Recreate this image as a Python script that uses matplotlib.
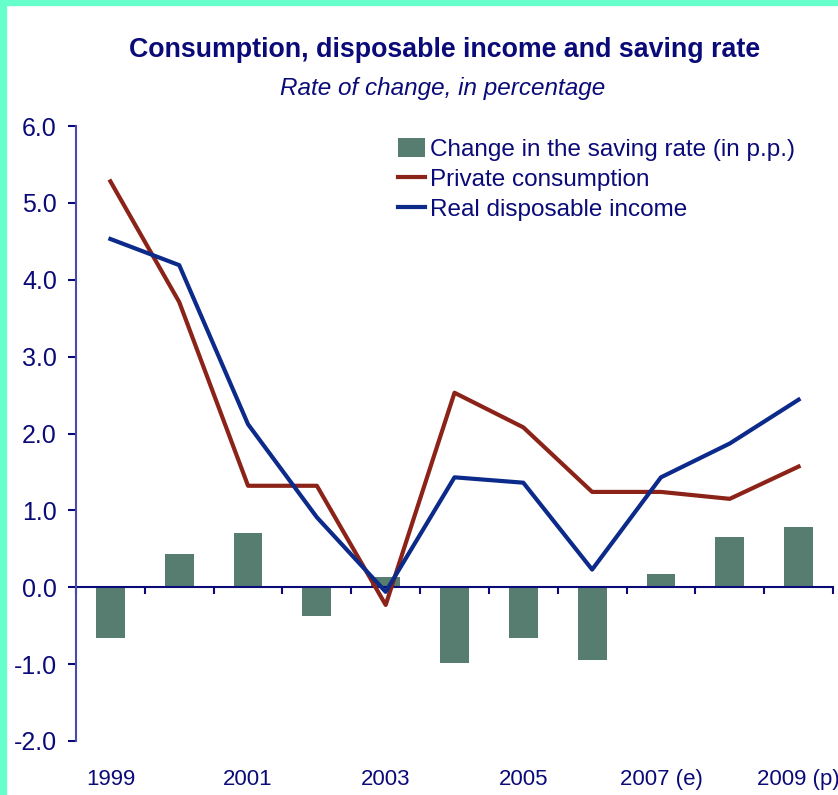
import numpy as np
import matplotlib.pyplot as plt
from matplotlib.patches import Rectangle

plt.rcParams['font.family'] = ['Liberation Sans', 'DejaVu Sans']

# 数据
years = ['1999', '2000', '2001', '2002', '2003', '2004', '2005', '2006', '2007', '2008', '2009']
year_labels = ['1999', '', '2001', '', '2003', '', '2005', '', '2007 (e)', '', '2009 (p)']
saving_change = [-0.66, 0.43, 0.70, -0.38, 0.13, -0.99, -0.66, -0.94, 0.17, 0.65, 0.78]
consumption = [5.28, 3.71, 1.32, 1.32, -0.23, 2.53, 2.08, 1.24, 1.24, 1.15, 1.57]
income = [4.53, 4.19, 2.12, 0.91, -0.06, 1.43, 1.36, 0.23, 1.43, 1.87, 2.44]

navy = '#0a0a78'
bar_col = '#577d70'
red = '#8b2318'
blue = '#0c2a8a'


def main():
    fig = plt.figure(figsize=(8.38, 7.95), dpi=100)
    # 左と上の枠
    fig.patches.append(Rectangle((0, 0), 6 / 838, 1, transform=fig.transFigure,
                                 color='#66ffcc', zorder=0))
    fig.patches.append(Rectangle((0, 1 - 5 / 795), 1, 5 / 795, transform=fig.transFigure,
                                 color='#66ffcc', zorder=0))

    ax = fig.add_axes([76 / 838, 1 - 741 / 795, 757 / 838, 615 / 795])
    x = np.arange(len(years))

    bars = ax.bar(x, saving_change, width=0.42, color=bar_col, zorder=1)
    l1, = ax.plot(x, consumption, color=red, lw=3, zorder=3)
    l2, = ax.plot(x, income, color=blue, lw=3, zorder=4)

    ax.set_xlim(-0.5, len(years) - 0.5)
    ax.set_ylim(-2, 6)
    ax.set_yticks(np.arange(-2, 7, 1))
    ax.set_yticklabels([f'{v:.1f}' for v in np.arange(-2, 7, 1)])

    ax.spines['top'].set_visible(False)
    ax.spines['right'].set_visible(False)
    ax.spines['left'].set_color('#4a4aa8')
    ax.spines['left'].set_linewidth(1.5)
    ax.spines['bottom'].set_position(('data', 0))
    ax.spines['bottom'].set_color(navy)
    ax.spines['bottom'].set_linewidth(1.5)
    ax.spines['bottom'].set_zorder(2)

    ax.set_xticks(np.arange(len(years) + 1) - 0.5)
    ax.tick_params(axis='x', direction='out', length=5, width=1.5, color=navy,
                   labelbottom=False)
    ax.tick_params(axis='y', direction='out', length=5.8, width=1.5, color=navy,
                   labelsize=18, labelcolor=navy, pad=8)

    sec = ax.secondary_xaxis(0)
    sec.set_xticks(x)
    sec.set_xticklabels(year_labels)
    sec.tick_params(length=0, pad=20, labelsize=16, labelcolor=navy)
    sec.spines['bottom'].set_visible(False)

    fig.text(445 / 838, 1 - 50 / 795, 'Consumption, disposable income and saving rate',
             ha='center', va='center', fontsize=19.3, fontweight='bold', color=navy)
    fig.text(443 / 838, 1 - 88 / 795, 'Rate of change, in percentage',
             ha='center', va='center', fontsize=17.5, fontstyle='italic', color=navy)

    leg = ax.legend([bars, l1, l2],
                    ['Change in the saving rate (in p.p.)', 'Private consumption',
                     'Real disposable income'],
                    loc='upper left', bbox_to_anchor=(398 / 838, 1 - 138 / 795),
                    bbox_transform=fig.transFigure, frameon=False, fontsize=17.5,
                    handlelength=1.1, handleheight=0.8, handletextpad=0.2,
                    labelspacing=0.3, borderpad=0, borderaxespad=0)
    for t in leg.get_texts():
        t.set_color(navy)

    plt.savefig('out.png', dpi=100, facecolor='white')


if __name__ == '__main__':
    main()
